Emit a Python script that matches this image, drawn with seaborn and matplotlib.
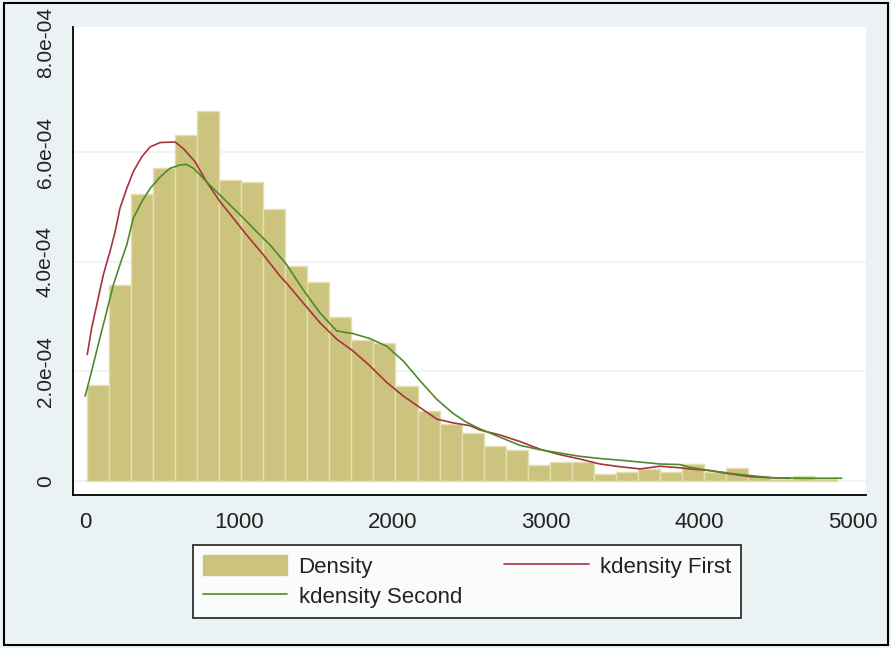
import numpy as np
import pandas as pd
import matplotlib
matplotlib.use("Agg")
import matplotlib.pyplot as plt
import matplotlib.patches as mpatches
import seaborn as sns

# histogram: 34 bins, heights (units of 1e-4)
bin_start = 10
bin_width = 143.7
bar_heights = [1.75, 3.58, 5.24, 5.72, 6.32, 6.75, 5.50, 5.46, 4.96, 3.93,
               3.63, 2.99, 2.57, 2.52, 1.74, 1.27, 1.04, 0.87, 0.63, 0.57,
               0.29, 0.34, 0.34, 0.13, 0.17, 0.22, 0.17, 0.31, 0.16, 0.23,
               0.10, 0.04, 0.09, 0.03]

# kdensity First (red)
first_x = [14, 43, 76, 119, 162, 195, 227, 271, 314, 369, 423, 488, 586, 640,
           716, 792, 879, 965, 1053, 1161, 1270, 1313, 1421, 1530, 1639, 1747,
           1856, 1965, 2073, 2182, 2291, 2399, 2507, 2573, 2703, 2833, 2964,
           3094, 3224, 3354, 3485, 3615, 3745, 3875, 3940, 4071, 4201, 4331,
           4462, 4592]
first_y = [2.31, 2.80, 3.22, 3.77, 4.19, 4.55, 4.98, 5.34, 5.65, 5.92, 6.10,
           6.18, 6.19, 6.07, 5.83, 5.46, 5.10, 4.80, 4.49, 4.13, 3.74, 3.61,
           3.25, 2.89, 2.59, 2.37, 2.10, 1.80, 1.55, 1.34, 1.13, 1.06, 1.01,
           0.93, 0.84, 0.72, 0.58, 0.48, 0.40, 0.31, 0.26, 0.22, 0.27, 0.24,
           0.22, 0.19, 0.13, 0.08, 0.06, 0.05]

# kdensity Second (green)
second_x = [0, 32, 64, 108, 141, 184, 227, 271, 314, 369, 423, 488, 553, 618,
            662, 705, 749, 792, 857, 944, 1031, 1118, 1205, 1313, 1421, 1530,
            1639, 1747, 1856, 1965, 2073, 2182, 2291, 2399, 2486, 2573, 2703,
            2833, 2964, 3094, 3224, 3354, 3485, 3745, 3875, 3940, 4071, 4201,
            4331, 4462, 4679, 4929]
second_y = [1.55, 1.89, 2.25, 2.74, 3.10, 3.58, 3.95, 4.31, 4.80, 5.10, 5.34,
            5.55, 5.71, 5.77, 5.78, 5.71, 5.59, 5.46, 5.28, 5.04, 4.80, 4.55,
            4.31, 3.95, 3.49, 3.07, 2.74, 2.69, 2.60, 2.46, 2.19, 1.83, 1.49,
            1.23, 1.07, 0.95, 0.80, 0.65, 0.57, 0.51, 0.45, 0.41, 0.38, 0.31,
            0.30, 0.25, 0.19, 0.14, 0.10, 0.06, 0.05, 0.05]

x_ticks = [0, 1000, 2000, 3000, 4000, 5000]
y_ticks = [0, 2e-4, 4e-4, 6e-4, 8e-4]
y_labels = ["0", "2.0e-04", "4.0e-04", "6.0e-04", "8.0e-04"]

bg = "#EAF2F3"
bar_col = "#CCC47E"
red = "#A8323F"
green = "#4F8A2A"

sns.set_style("white")
plt.rcParams["font.family"] = ["Liberation Sans", "DejaVu Sans"]

n_bins = len(bar_heights)
bin_end = bin_start + bin_width * n_bins
mids = bin_start + bin_width * (np.arange(n_bins) + 0.5)
hist_df = pd.DataFrame({"mid": mids, "dens": np.array(bar_heights) * 1e-4})
first_df = pd.DataFrame({"x": first_x, "y": np.array(first_y) * 1e-4})
second_df = pd.DataFrame({"x": second_x, "y": np.array(second_y) * 1e-4})

fig = plt.figure(figsize=(8.91, 6.48), dpi=100, facecolor=bg)
ax = fig.add_axes([73 / 891, 1 - 495 / 648, (866 - 73) / 891, (495 - 27) / 648])
ax.set_facecolor("white")

for yt in y_ticks[:-1]:
    ax.axhline(yt, color=bg, lw=1.2, zorder=0)

sns.histplot(data=hist_df, x="mid", weights="dens", binwidth=bin_width,
             binrange=(bin_start, bin_end), stat="count",
             color=bar_col, alpha=1, edgecolor="#E3DFAE", linewidth=1.0, ax=ax)
sns.lineplot(data=first_df, x="x", y="y", color=red, lw=1.2, ax=ax,
             estimator=None, sort=False)
sns.lineplot(data=second_df, x="x", y="y", color=green, lw=1.2, ax=ax,
             estimator=None, sort=False)

ax.set_xlim(-79, 5087)
ax.set_ylim(-0.256e-4, 8.29e-4)
ax.set_xlabel("")
ax.set_ylabel("")
ax.set_xticks(x_ticks)
ax.set_xticklabels([str(v) for v in x_ticks], fontsize=16)
ax.set_yticks(y_ticks)
ax.set_yticklabels(y_labels, fontsize=15, rotation=90, va="center")

for s in ["top", "right"]:
    ax.spines[s].set_visible(False)
for s in ["left", "bottom"]:
    ax.spines[s].set_color("black")
    ax.spines[s].set_linewidth(1.3)
ax.tick_params(axis="both", direction="out", length=5, width=1.2, color="black",
               labelcolor="#222222")
ax.tick_params(axis="x", pad=7)
ax.tick_params(axis="y", pad=8)

handles = [mpatches.Patch(facecolor=bar_col, edgecolor=bar_col),
           ax.lines[-1], ax.lines[-2]]
labels = ["Density", "kdensity Second", "kdensity First"]
leg = fig.legend(handles, labels, ncol=2, mode="expand", loc="center",
                 bbox_to_anchor=(193 / 891, 1 - 619 / 648, (741 - 193) / 891, 75 / 648),
                 fontsize=16, frameon=True, fancybox=False, handlelength=3.8,
                 handleheight=1.05, handletextpad=0.5, labelspacing=0.35,
                 borderpad=0.45, borderaxespad=0)
leg.get_frame().set_edgecolor("black")
leg.get_frame().set_linewidth(1.3)
leg.get_frame().set_facecolor("white")
for t in leg.get_texts():
    t.set_color("#222222")

fig.patches.append(mpatches.Rectangle((4 / 891, 3 / 648), 884 / 891, 642 / 648,
                                      transform=fig.transFigure, fill=False,
                                      edgecolor="black", lw=1.5))

fig.savefig("out.png", dpi=100, facecolor=bg)
